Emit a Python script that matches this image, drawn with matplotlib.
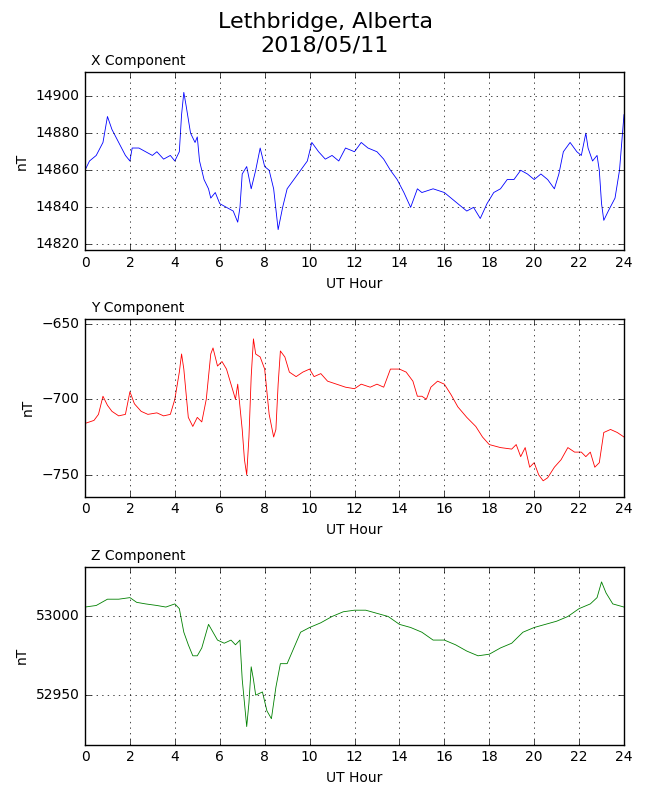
import matplotlib
matplotlib.use("Agg")
import matplotlib.pyplot as plt

plt.style.use('classic')

x_t = [0,0.2,0.5,0.8,1.0,1.2,1.5,1.8,2.0,2.1,2.4,2.7,3.0,3.2,3.5,3.8,4.0,4.2,4.3,4.4,4.5,4.7,4.9,5.0,5.1,5.3,5.5,5.6,5.8,6.0,6.3,6.6,6.8,6.9,7.0,7.2,7.4,7.6,7.8,8.0,8.2,8.4,8.6,8.8,9.0,9.3,9.6,9.9,10.1,10.4,10.7,11.0,11.3,11.6,12.0,12.3,12.6,13.0,13.3,13.6,13.9,14.2,14.5,14.8,15.0,15.5,16.0,16.3,16.6,17.0,17.3,17.6,17.9,18.2,18.5,18.8,19.1,19.4,19.7,20.0,20.3,20.6,20.9,21.1,21.3,21.6,21.9,22.1,22.3,22.4,22.6,22.8,22.9,23.0,23.1,23.3,23.6,23.8,24.0]
x_v = [14860,14865,14868,14875,14889,14882,14875,14868,14865,14872,14872,14870,14868,14870,14866,14868,14865,14870,14890,14902,14895,14880,14875,14878,14865,14855,14850,14845,14848,14842,14840,14838,14832,14840,14858,14862,14850,14860,14872,14862,14860,14850,14828,14840,14850,14855,14860,14865,14875,14870,14866,14868,14865,14872,14870,14875,14872,14870,14866,14860,14855,14848,14840,14850,14848,14850,14848,14845,14842,14838,14840,14834,14842,14848,14850,14855,14855,14860,14858,14855,14858,14855,14850,14858,14870,14875,14870,14868,14880,14872,14865,14868,14860,14842,14833,14838,14845,14860,14890]

y_t = [0,0.4,0.6,0.8,1.0,1.2,1.5,1.8,2.0,2.2,2.5,2.8,3.2,3.5,3.8,4.0,4.2,4.3,4.4,4.6,4.8,5.0,5.2,5.4,5.6,5.7,5.9,6.1,6.3,6.5,6.7,6.8,6.9,7.0,7.1,7.2,7.3,7.4,7.5,7.6,7.8,8.0,8.2,8.4,8.5,8.6,8.7,8.9,9.1,9.4,9.7,10.0,10.2,10.5,10.8,11.2,11.6,12.0,12.3,12.7,13.0,13.3,13.6,14.0,14.3,14.6,14.8,15.0,15.2,15.4,15.7,16.0,16.3,16.6,17.0,17.4,17.7,18.0,18.5,19.0,19.2,19.4,19.6,19.8,20.0,20.2,20.4,20.6,20.9,21.2,21.5,21.8,22.1,22.3,22.5,22.7,22.9,23.1,23.4,23.7,24.0]
y_v = [-716,-714,-710,-698,-704,-708,-711,-710,-695,-703,-708,-710,-709,-711,-710,-700,-682,-670,-680,-712,-718,-712,-715,-700,-670,-666,-678,-675,-680,-690,-700,-690,-705,-720,-740,-750,-725,-685,-660,-670,-672,-680,-710,-725,-720,-690,-668,-672,-682,-685,-682,-680,-685,-683,-688,-690,-692,-693,-690,-692,-690,-692,-680,-680,-682,-688,-698,-698,-700,-692,-688,-690,-697,-705,-712,-718,-725,-730,-732,-733,-730,-738,-732,-745,-742,-750,-754,-752,-745,-740,-732,-735,-735,-738,-735,-745,-742,-722,-720,-722,-725]

z_t = [0,0.5,1.0,1.5,2.0,2.3,2.7,3.2,3.6,4.0,4.2,4.4,4.6,4.8,5.0,5.2,5.4,5.5,5.7,5.9,6.2,6.5,6.7,6.9,7.0,7.1,7.2,7.3,7.4,7.5,7.6,7.9,8.1,8.3,8.5,8.7,9.0,9.3,9.6,10.0,10.5,11.0,11.5,12.0,12.5,13.0,13.5,14.0,14.5,15.0,15.5,16.0,16.5,17.0,17.5,18.0,18.5,19.0,19.5,20.0,20.5,21.0,21.5,22.0,22.5,22.8,23.0,23.2,23.5,24.0]
z_v = [53006,53007,53011,53011,53012,53009,53008,53007,53006,53008,53005,52990,52982,52975,52975,52980,52990,52995,52990,52985,52983,52985,52982,52985,52960,52945,52930,52945,52968,52960,52950,52952,52940,52935,52955,52970,52970,52980,52990,52993,52996,53000,53003,53004,53004,53002,53000,52995,52993,52990,52985,52985,52982,52978,52975,52976,52980,52983,52990,52993,52995,52997,53000,53005,53008,53012,53022,53015,53008,53006]

fig = plt.figure(figsize=(6.5, 8), dpi=100, facecolor='white')
fig.suptitle("Lethbridge, Alberta\n2018/05/11", fontsize=16, y=0.985)
specs = [
    ("X Component", x_t, x_v, 'b', (14817, 14913), [14820,14840,14860,14880,14900], 0.6875),
    ("Y Component", y_t, y_v, 'r', (-764.6, -646.7), [-750,-700,-650], 0.379),
    ("Z Component", z_t, z_v, 'g', (52918.4, 53031.6), [52950,53000], 0.069),
]
for title, t, v, c, ylim, yt, bottom in specs:
    ax = fig.add_axes([85/650, bottom, 539/650, 178/800])
    ax.plot(t, v, color=c, lw=0.6)
    ax.set_xlim(0, 24)
    ax.set_ylim(*ylim)
    ax.set_xticks(range(0, 25, 2))
    ax.set_yticks(yt)
    ax.grid(True)
    ax.tick_params(labelsize=10)
    ax.set_xlabel("UT Hour", fontsize=10)
    ax.set_ylabel("nT", fontsize=10)
    ax.set_title(title, loc='left', fontsize=10, x=0.012)
    ax.ticklabel_format(axis='y', useOffset=False, style='plain')
fig.savefig("out.png", dpi=100, facecolor='white')
